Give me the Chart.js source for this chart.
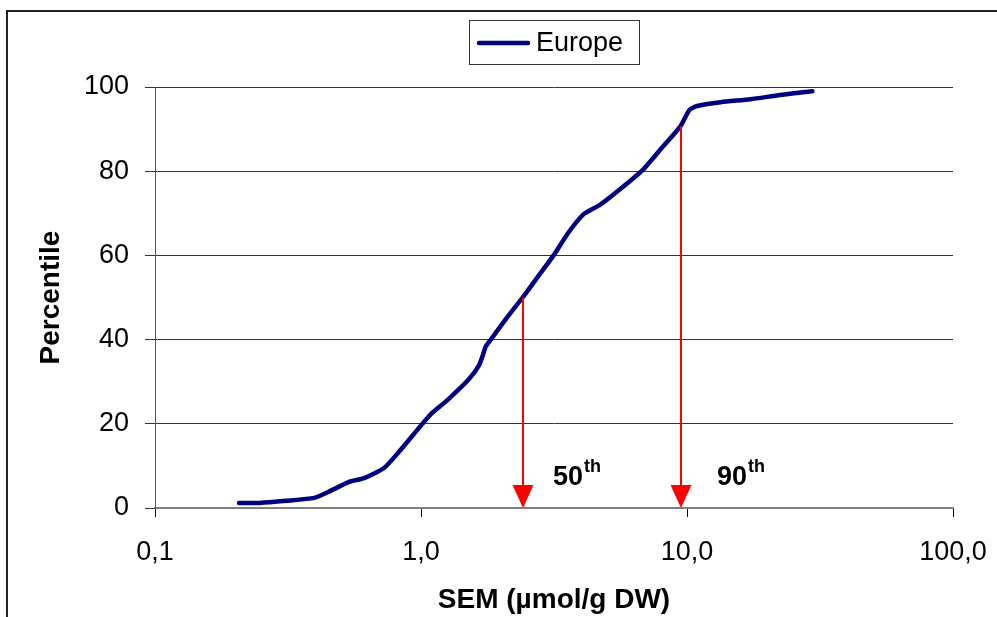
<!DOCTYPE html>
<html>
<head>
<meta charset="utf-8">
<script src="https://cdn.jsdelivr.net/npm/chart.js@4.4.1/dist/chart.umd.min.js"></script>
<style>
  html, body { margin: 0; padding: 0; background: #fff; }
  #wrap { width: 997px; height: 617px; position: relative; }
</style>
</head>
<body>
<div id="wrap"><canvas id="c" width="997" height="617"></canvas></div>
<script>
// ---- data ----
const seriesName = "Europe";
const semValues = [0.207, 0.247, 0.311, 0.397, 0.448, 0.537, 0.611, 0.726, 0.820, 0.902, 1.0, 1.09, 1.26, 1.51, 1.65, 1.71, 1.75, 1.83, 2.08, 2.41, 2.77, 3.15, 3.59, 4.09, 4.73, 6.03, 6.87, 7.96, 9.46, 10.2, 10.9, 13.4, 17.3, 22.4, 29.6];
const percentileValues = [1.2, 1.2, 1.7, 2.4, 3.8, 6.2, 7.1, 9.5, 13.1, 16.2, 19.6, 22.3, 25.7, 30.5, 33.8, 36.4, 38.3, 40, 44.8, 50, 55.2, 60, 65.5, 69.8, 72.1, 77.4, 80.5, 85.2, 90.7, 94.5, 95.5, 96.4, 97.1, 98.1, 99];
const xTickValues = [0.1, 1, 10, 100];
const xTickLabels = ["0,1", "1,0", "10,0", "100,0"];
const markerSem = [2.41, 9.46];
const markerPct = [50, 90.7];
const markerNum = ["50", "90"];
const markerSup = ["th", "th"];

const FONT = "'Liberation Sans', Arial, sans-serif";

const decorPlugin = {
  id: 'decor',
  beforeDraw(chart) {
    const ctx = chart.ctx;
    ctx.save();
    ctx.fillStyle = '#fff';
    ctx.fillRect(0, 0, chart.width, chart.height);
    ctx.strokeStyle = '#222';
    ctx.lineWidth = 2;
    ctx.beginPath();
    ctx.moveTo(7, chart.height);
    ctx.lineTo(7, 11);
    ctx.lineTo(chart.width, 11);
    ctx.stroke();
    ctx.restore();
  },
  afterDraw(chart) {
    const ctx = chart.ctx;
    const xs = chart.scales.x, ys = chart.scales.y;
    ctx.save();
    // arrows
    const labelOffsets = [30, 36];
    for (let i = 0; i < markerSem.length; i++) {
      const px = Math.round(xs.getPixelForValue(markerSem[i]));
      const top = ys.getPixelForValue(markerPct[i]);
      const bot = ys.getPixelForValue(0);
      ctx.strokeStyle = '#ff0000';
      ctx.lineWidth = 2;
      ctx.beginPath();
      ctx.moveTo(px, top);
      ctx.lineTo(px, bot - 20);
      ctx.stroke();
      ctx.fillStyle = '#ff0000';
      ctx.beginPath();
      ctx.moveTo(px - 10.5, bot - 23);
      ctx.lineTo(px + 10.5, bot - 23);
      ctx.lineTo(px, bot);
      ctx.closePath();
      ctx.fill();
      // label
      ctx.fillStyle = '#000';
      ctx.textBaseline = 'alphabetic';
      ctx.textAlign = 'left';
      ctx.font = 'bold 27px ' + FONT;
      const lx = px + labelOffsets[i];
      ctx.fillText(markerNum[i], lx, bot - 23);
      const w = ctx.measureText(markerNum[i]).width;
      ctx.font = 'bold 18px ' + FONT;
      ctx.fillText(markerSup[i], lx + w + 1, bot - 36);
    }
    // legend
    const ds = chart.data.datasets[0];
    ctx.strokeStyle = '#333';
    ctx.lineWidth = 1;
    ctx.strokeRect(469.5, 20.5, 170, 44);
    ctx.strokeStyle = ds.borderColor;
    ctx.lineWidth = 4.5;
    ctx.lineCap = 'round';
    ctx.beginPath();
    ctx.moveTo(479, 43);
    ctx.lineTo(528, 43);
    ctx.stroke();
    ctx.fillStyle = '#000';
    ctx.font = '27px ' + FONT;
    ctx.textBaseline = 'middle';
    ctx.fillText(ds.label, 536, 44);
    ctx.restore();
  }
};

new Chart(document.getElementById('c'), {
  type: 'line',
  data: {
    datasets: [{
      label: seriesName,
      data: semValues.map((v, i) => ({ x: v, y: percentileValues[i] })),
      borderColor: '#000080',
      borderWidth: 4.5,
      pointRadius: 0,
      tension: 0.2,
      fill: false,
      borderCapStyle: 'round',
      borderJoinStyle: 'round'
    }]
  },
  plugins: [decorPlugin],
  options: {
    responsive: false,
    animation: false,
    layout: { padding: { left: 0, right: 44, top: 87, bottom: 0 } },
    plugins: { legend: { display: false }, tooltip: { enabled: false } },
    scales: {
      x: {
        type: 'logarithmic',
        min: 0.1, max: 100,
        afterBuildTicks(scale) { scale.ticks = xTickValues.map(v => ({ value: v })); },
        afterFit(scale) { scale.height = 109; scale.paddingLeft = 0; scale.paddingRight = 0; },
        ticks: {
          autoSkip: false,
          maxRotation: 0,
          padding: 19,
          color: '#000',
          font: { family: FONT, size: 27 },
          callback: (v, i) => xTickLabels[i]
        },
        grid: { drawOnChartArea: false, tickLength: 9, tickColor: '#000', lineWidth: 1 },
        border: { color: '#808080', width: 2 },
        title: {
          display: true,
          text: 'SEM (µmol/g DW)',
          color: '#000',
          font: { family: FONT, size: 28, weight: 'bold' },
          padding: { top: 3, bottom: 0 }
        }
      },
      y: {
        min: 0, max: 100,
        afterFit(scale) { scale.width = 155; scale.paddingTop = 0; scale.paddingBottom = 0; },
        ticks: {
          stepSize: 20,
          padding: 16,
          color: '#000',
          font: { family: FONT, size: 27 }
        },
        grid: {
          tickLength: 10,
          lineWidth: 1,
          color: (c) => (c.tick && c.tick.value === 0) ? '#808080' : '#333',
          tickColor: '#333'
        },
        border: { color: '#555', width: 1 },
        title: {
          display: true,
          text: 'Percentile',
          color: '#000',
          font: { family: FONT, size: 28, weight: 'bold' },
          padding: { top: 34, bottom: 0 }
        }
      }
    }
  }
});
</script>
</body>
</html>
